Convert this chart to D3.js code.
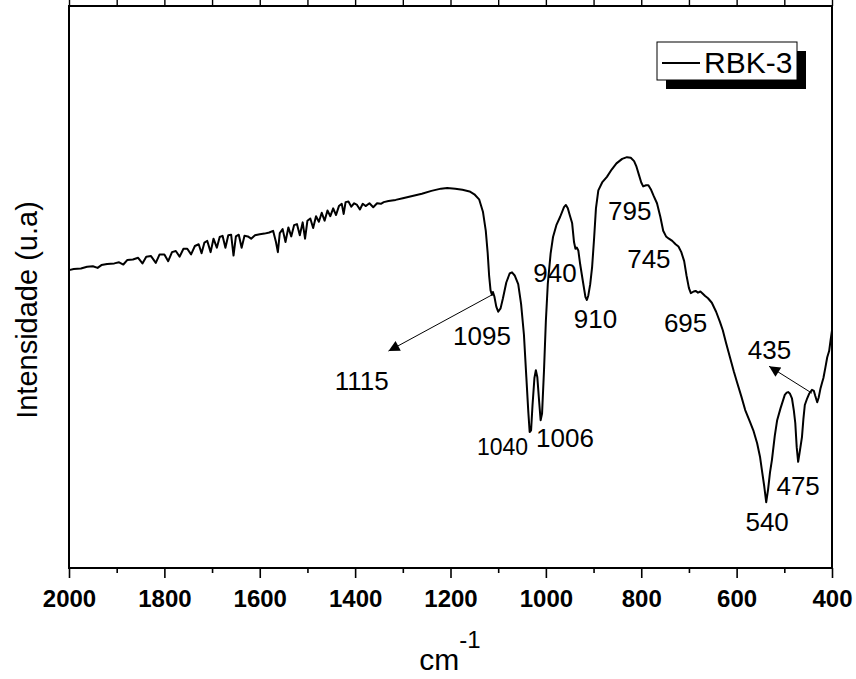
<!DOCTYPE html>
<html>
<head>
<meta charset="utf-8">
<script src="https://cdn.jsdelivr.net/npm/d3@7"></script>
<style>
  body { margin: 0; background: #fff; }
  svg { display: block; font-family: "Liberation Sans", Arial, sans-serif; }
</style>
</head>
<body>
<svg id="chart"></svg>
<script>
const width = 856,
  height = 679;

// wavenumber (cm-1) and intensity (u.a)
const wavenumber = [
  2000, 1990, 1975, 1962, 1950, 1940, 1932, 1920, 1905, 1895, 1886, 1878, 1866, 1855, 1846, 1838,
  1828, 1818, 1810, 1800, 1792, 1784, 1776, 1768, 1760, 1752, 1744, 1736, 1728, 1722, 1716, 1710,
  1703, 1697, 1690, 1684, 1678, 1672, 1666, 1660, 1655, 1650, 1644, 1638, 1632, 1625, 1618, 1610,
  1600, 1590, 1580, 1572, 1566, 1562, 1558, 1552, 1546, 1540, 1534, 1528, 1522, 1516, 1510, 1505,
  1500, 1494, 1488, 1482, 1476, 1470, 1464, 1458, 1452, 1446, 1440, 1434, 1428, 1424, 1420, 1414,
  1408, 1402, 1396, 1390, 1384, 1378, 1370, 1362, 1354, 1346, 1340, 1330, 1315, 1300, 1280, 1260,
  1240, 1220, 1207, 1190, 1175, 1160, 1150, 1140, 1132, 1126, 1122, 1119, 1116, 1113, 1111, 1108,
  1104, 1100, 1095, 1090, 1083, 1076, 1071, 1065, 1058, 1052, 1046, 1041, 1037, 1034, 1031, 1028,
  1024, 1021, 1018, 1014, 1011, 1008, 1004, 1000, 996, 990, 985, 978, 970, 962, 958, 954,
  950, 945, 941, 938, 935, 932, 928, 922, 917, 914, 911, 907, 903, 899, 895, 890,
  882, 872, 862, 852, 840, 830, 822, 815, 810, 805, 800, 796, 790, 785, 780, 774,
  767, 760, 754, 748, 742, 735, 728, 722, 716, 710, 705, 700, 696, 690, 686, 681,
  676, 672, 666, 660, 652, 643, 635, 629, 622, 614, 606, 599, 590, 582, 572, 565,
  557, 551, 547, 542, 538, 534, 530, 526, 520, 515, 508, 499, 495, 492, 488, 484,
  480, 477, 474, 471, 468, 463, 460, 457, 452, 448, 442, 438, 435, 431, 428, 424,
  421, 418, 414, 410, 406, 403, 400
];
const intensity = [
  53.0, 53.2, 53.3, 53.6, 53.7, 53.4, 53.9, 54.1, 54.2, 54.4, 54.0, 54.8, 54.9, 55.2, 54.2, 55.4,
  55.5, 54.3, 55.8, 55.8, 54.6, 56.2, 56.4, 55.4, 56.8, 56.8, 55.8, 57.3, 57.6, 56.0, 57.9, 58.2,
  56.2, 58.6, 57.0, 58.9, 59.1, 57.0, 59.2, 59.3, 55.6, 59.0, 59.3, 57.0, 59.1, 59.0, 58.6, 59.2,
  59.4, 59.5, 59.7, 60.0, 58.0, 56.2, 59.6, 60.3, 58.0, 60.6, 59.0, 61.0, 61.2, 59.2, 61.5, 58.6,
  61.8, 62.2, 60.5, 62.6, 61.6, 63.2, 61.8, 63.6, 62.6, 64.0, 62.8, 64.4, 64.8, 63.0, 65.1, 65.2,
  64.3, 64.9, 64.6, 63.8, 64.8, 64.4, 64.9, 64.2, 64.9, 64.8, 65.1, 65.3, 65.5, 65.8, 66.2, 66.6,
  67.1, 67.5, 67.6, 67.5, 67.3, 67.0, 66.5, 65.6, 63.4, 60.0, 56.0, 52.0, 49.4, 48.6, 49.1, 48.3,
  46.5, 45.6, 46.2, 48.0, 50.8, 52.4, 52.6, 52.0, 50.5, 47.0, 41.5, 34.0, 28.0, 24.2, 24.5, 29.0,
  33.8, 35.2, 34.0, 29.5, 26.3, 27.5, 35.0, 44.0, 50.5, 56.0, 58.9, 61.0, 62.5, 64.2, 64.6, 64.0,
  62.8, 61.4, 58.0, 56.8, 57.0, 56.5, 54.0, 50.8, 48.2, 47.7, 48.5, 50.5, 53.6, 58.5, 64.0, 67.2,
  68.6, 69.6, 70.9, 72.0, 72.8, 73.1, 73.0, 72.4, 71.4, 70.0, 68.6, 67.9, 68.1, 68.1, 67.4, 66.2,
  64.9, 62.5, 60.0, 59.0, 58.6, 58.2, 57.6, 57.2, 56.2, 54.6, 52.0, 49.8, 48.9, 49.2, 49.3, 49.0,
  49.2, 48.9, 48.4, 48.0, 47.2, 45.6, 43.8, 42.3, 40.0, 37.5, 35.0, 33.0, 30.5, 28.1, 26.0, 24.5,
  22.2, 19.8, 17.4, 14.5, 11.7, 14.0, 17.0, 19.2, 23.5, 26.3, 28.4, 30.8, 31.2, 31.3, 31.0, 30.2,
  28.0, 25.8, 21.5, 18.9, 20.5, 23.3, 26.5, 29.0, 30.2, 31.0, 31.7, 31.5, 30.6, 29.5, 30.3, 32.0,
  32.9, 33.8, 35.6, 37.5, 38.6, 40.5, 42.3
];

const majorTicks = [2000, 1800, 1600, 1400, 1200, 1000, 800, 600, 400];
const minorTicks = [1900, 1700, 1500, 1300, 1100, 900, 700, 500];

// peak labels: text, wavenumber / intensity of the label anchor
const peakText = ["1095", "1040", "1006", "940", "910", "795", "745", "695", "435", "475", "540", "1115"];
const peakWn = [1134, 1091, 960, 981, 896, 824, 784, 707, 531, 471, 536, 1386];
const peakVal = [39.7, 20.1, 21.5, 50.9, 42.7, 61.9, 53.3, 42.0, 37.2, 13.0, 6.6, 31.7];

// arrows: from the band to the label
const arrowFrom = [[1113, 48.6], [442, 31.1]];
const arrowTo = [[1330, 38.6], [532, 35.9]];

const seriesName = "RBK-3";

const data = wavenumber.map((w, i) => ({ wn: w, v: intensity[i] }));

const margin = { left: 69, right: 24, top: 6, bottom: 111 };

const svg = d3
  .select("#chart")
  .attr("width", width)
  .attr("height", height);

const x = d3
  .scaleLinear()
  .domain([2000, 400])
  .range([margin.left, width - margin.right]);

const y = d3
  .scaleLinear()
  .domain([0, 100])
  .range([height - margin.bottom, margin.top]);

const plotBottom = height - margin.bottom;

// arrow head
svg
  .append("defs")
  .append("marker")
  .attr("id", "head")
  .attr("viewBox", "0 0 10 10")
  .attr("refX", 10)
  .attr("refY", 5)
  .attr("markerWidth", 17)
  .attr("markerHeight", 11)
  .attr("markerUnits", "userSpaceOnUse")
  .attr("orient", "auto")
  .append("path")
  .attr("d", "M0,0L10,5L0,10z")
  .attr("fill", "#000");

//////////////////////////// AXES ////////////////////////////
const bottomAxis = svg
  .append("g")
  .attr("transform", "translate(0," + plotBottom + ")")
  .call(
    d3.axisBottom(x)
      .tickValues(majorTicks)
      .tickSize(10)
      .tickPadding(12)
      .tickFormat(d3.format("d"))
  );
bottomAxis.select(".domain").remove();
bottomAxis.selectAll("line").attr("stroke", "#000").attr("stroke-width", 1.6);
bottomAxis
  .selectAll("text")
  .attr("font-size", 24)
  .attr("font-weight", "bold")
  .attr("font-family", "'Liberation Sans', Arial, sans-serif")
  .attr("fill", "#000");

const minorAxis = svg
  .append("g")
  .attr("transform", "translate(0," + plotBottom + ")")
  .call(d3.axisBottom(x).tickValues(minorTicks).tickSize(5).tickFormat(""));
minorAxis.select(".domain").remove();
minorAxis.selectAll("line").attr("stroke", "#000").attr("stroke-width", 1.6);

const topAxis = svg
  .append("g")
  .attr("transform", "translate(0," + margin.top + ")")
  .call(d3.axisTop(x).tickValues(majorTicks.concat(minorTicks)).tickSize(6).tickFormat(""));
topAxis.select(".domain").remove();
topAxis.selectAll("line").attr("stroke", "#000").attr("stroke-width", 1.4);

// frame
svg
  .append("rect")
  .attr("x", x(2000))
  .attr("y", y(100))
  .attr("width", x(400) - x(2000))
  .attr("height", y(0) - y(100))
  .attr("fill", "none")
  .attr("stroke", "#000")
  .attr("stroke-width", 2);

//////////////////////////// SPECTRUM ////////////////////////////
const line = d3
  .line()
  .x(d => x(d.wn))
  .y(d => y(d.v));

svg
  .append("path")
  .datum(data)
  .attr("d", line)
  .attr("fill", "none")
  .attr("stroke", "#000")
  .attr("stroke-width", 2)
  .attr("stroke-linejoin", "round");

//////////////////////////// LABELS ////////////////////////////
svg
  .selectAll(".peak")
  .data(peakText)
  .enter()
  .append("text")
  .attr("class", "peak")
  .attr("x", (d, i) => x(peakWn[i]))
  .attr("y", (d, i) => y(peakVal[i]))
  .attr("text-anchor", "middle")
  .attr("font-size", d => (d === "1040" ? 23 : 26))
  .attr("fill", "#000")
  .text(d => d);

svg
  .selectAll(".arrow")
  .data(arrowFrom)
  .enter()
  .append("line")
  .attr("class", "arrow")
  .attr("x1", d => x(d[0]))
  .attr("y1", d => y(d[1]))
  .attr("x2", (d, i) => x(arrowTo[i][0]))
  .attr("y2", (d, i) => y(arrowTo[i][1]))
  .attr("stroke", "#000")
  .attr("stroke-width", 1)
  .attr("marker-end", "url(#head)");

// axis titles
svg
  .append("text")
  .attr("transform", "translate(37,310) rotate(-90)")
  .attr("text-anchor", "middle")
  .attr("font-size", 29)
  .attr("fill", "#000")
  .text("Intensidade (u.a)");

const xTitle = svg
  .append("text")
  .attr("x", 450)
  .attr("y", 670)
  .attr("text-anchor", "middle")
  .attr("font-size", 30)
  .attr("fill", "#000");
xTitle.append("tspan").text("cm");
xTitle
  .append("tspan")
  .attr("font-size", 24)
  .attr("dy", -22)
  .text("-1");

//////////////////////////// LEGEND ////////////////////////////
const legend = svg.append("g").attr("transform", "translate(657,42)");
legend
  .append("rect")
  .attr("x", 9)
  .attr("y", 9)
  .attr("width", 140)
  .attr("height", 38)
  .attr("fill", "#000");
legend
  .append("rect")
  .attr("width", 140)
  .attr("height", 38)
  .attr("fill", "#fff")
  .attr("stroke", "#000")
  .attr("stroke-width", 1);
legend
  .append("line")
  .attr("x1", 5)
  .attr("x2", 43)
  .attr("y1", 21)
  .attr("y2", 21)
  .attr("stroke", "#000")
  .attr("stroke-width", 2);
legend
  .append("text")
  .attr("x", 47)
  .attr("y", 31)
  .attr("font-size", 30)
  .attr("fill", "#000")
  .text(seriesName);
</script>
</body>
</html>
